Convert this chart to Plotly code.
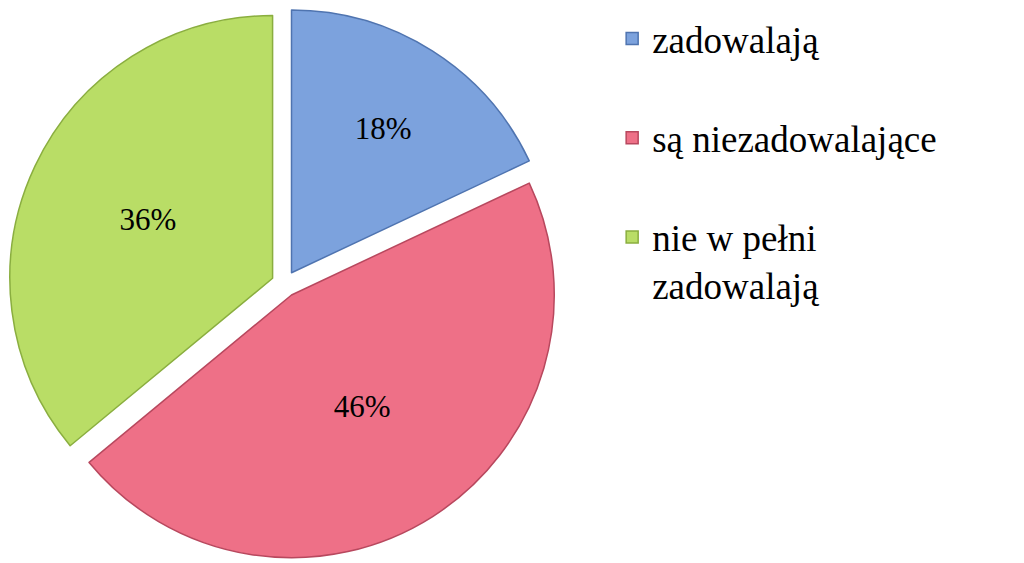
import plotly.graph_objects as go

kategorie = ["zadowalają", "są niezadowalające", "nie w pełni<br>zadowalają"]
udzialy = [18, 46, 36]
kolory = ["#7ca2dd", "#ee7087", "#b9dd66"]
obrys = ["#4f74b0", "#b8485e", "#8aae3f"]

# pusta linia dla odstepu miedzy pozycjami legendy
odstep = ["<br> ", "<br> ", ""]
etykiety = [k + o for k, o in zip(kategorie, odstep)]

czcionka = "Times New Roman"
napisy = dict(family=czcionka, size=31, color="black")

fig = go.Figure()
fig.add_trace(go.Pie(
    labels=etykiety,
    values=udzialy,
    sort=False,
    direction="clockwise",
    rotation=0,
    pull=[0.05, 0.05, 0.05],
    marker=dict(colors=kolory, line=dict(color=obrys, width=1.5)),
    texttemplate="%{value}%",
    textposition="inside",
    insidetextorientation="horizontal",
    textfont=napisy,
    insidetextfont=napisy,
    domain=dict(x=[0.0, 0.54], y=[0.02, 1.0]),
    hoverinfo="percent",
))

fig.update_layout(
    width=1024,
    height=563,
    margin=dict(l=0, r=0, t=0, b=0),
    paper_bgcolor="white",
    plot_bgcolor="white",
    font=dict(family=czcionka),
    showlegend=True,
    legend=dict(
        x=0.59, y=1.0, xanchor="left", yanchor="top",
        valign="top",
        font=dict(family=czcionka, size=37, color="black"),
        itemwidth=30,
    ),
)

fig.write_html("out.html")
